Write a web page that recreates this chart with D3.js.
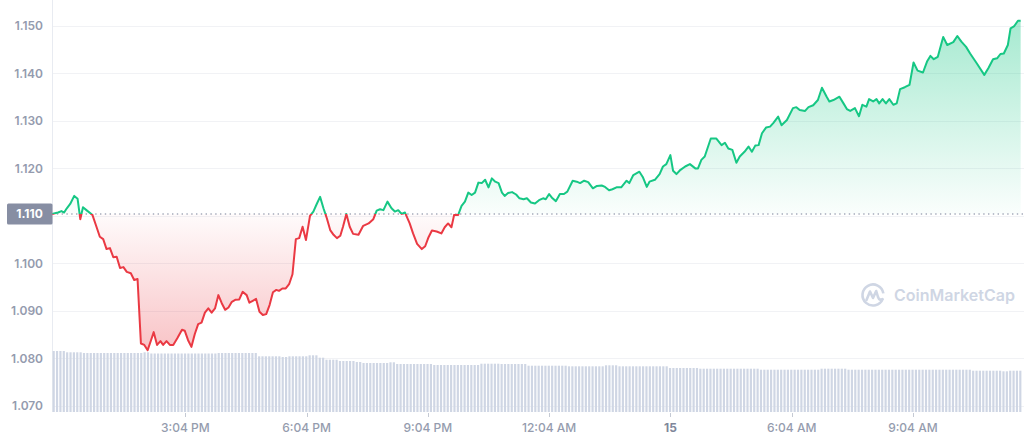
<!DOCTYPE html>
<html><head><meta charset="utf-8">
<script src="https://cdn.jsdelivr.net/npm/d3@7"></script>
<style>html,body{margin:0;padding:0;background:#fff;} svg{display:block;font-family:Inter,"Noto Sans",sans-serif;}</style>
</head><body><svg id="c" width="1024" height="441"></svg>
<script>
// minutes after the window start (11:46 AM on the 14th)
const priceMinutes = [0,9,14,18,22,27,33,38,42,46,52,60,66,71,76,81,86,91,96,101,106,111,117,122,127,132,137,142,147,151,156,161,165,170,175,180,186,193,197,202,207,212,217,222,227,232,237,242,247,252,257,262,267,272,278,283,289,293,298,303,308,313,318,323,328,333,337,342,347,352,357,362,367,372,377,383,388,393,398,403,408,413,418,423,428,432,437,442,447,455,462,470,477,482,487,492,498,504,509,514,519,524,531,536,542,549,554,559,564,571,578,583,588,593,597,603,608,613,618,623,628,633,638,643,648,653,658,663,668,672,677,683,689,694,700,705,711,717,723,729,733,738,743,748,754,760,765,773,779,784,790,796,803,809,816,821,827,832,838,845,853,857,863,872,877,883,887,895,902,907,912,918,922,927,933,940,947,955,959,964,969,978,986,994,999,1004,1010,1016,1021,1028,1034,1039,1044,1049,1054,1060,1066,1071,1078,1083,1091,1100,1105,1110,1118,1123,1130,1137,1143,1150,1154,1160,1169,1175,1180,1185,1192,1198,1203,1209,1213,1219,1224,1228,1233,1238,1243,1249,1254,1259,1266,1273,1279,1285,1293,1299,1304,1309,1315,1323,1329,1338,1344,1350,1357,1363,1373,1384,1390,1397,1403,1408,1413,1419,1423,1428,1434,1438];
const prices = [1.1104,1.1107,1.1110,1.1107,1.1116,1.1125,1.1142,1.1136,1.1093,1.1118,1.1111,1.1102,1.1077,1.1056,1.1051,1.1030,1.1032,1.1013,1.1014,1.0990,1.0992,1.0982,1.0979,1.0965,1.0967,1.0831,1.0828,1.0817,1.0838,1.0855,1.0828,1.0836,1.0828,1.0836,1.0828,1.0828,1.0842,1.0860,1.0858,1.0838,1.0824,1.0851,1.0872,1.0875,1.0896,1.0905,1.0896,1.0905,1.0933,1.0916,1.0902,1.0907,1.0919,1.0923,1.0924,1.0940,1.0933,1.0917,1.0921,1.0925,1.0898,1.0891,1.0893,1.0912,1.0939,1.0944,1.0942,1.0947,1.0947,1.0956,1.0977,1.1051,1.1053,1.1077,1.1049,1.1100,1.1109,1.1125,1.1140,1.1116,1.1095,1.1070,1.1060,1.1053,1.1058,1.1077,1.1104,1.1077,1.1062,1.1060,1.1079,1.1084,1.1093,1.1111,1.1114,1.1112,1.1130,1.1116,1.1109,1.1112,1.1104,1.1107,1.1084,1.1063,1.1041,1.1030,1.1036,1.1055,1.1069,1.1067,1.1063,1.1076,1.1084,1.1076,1.1102,1.1102,1.1121,1.1130,1.1149,1.1144,1.1149,1.1170,1.1169,1.1176,1.1160,1.1179,1.1172,1.1169,1.1149,1.1142,1.1148,1.1150,1.1145,1.1137,1.1135,1.1137,1.1128,1.1126,1.1133,1.1137,1.1135,1.1146,1.1137,1.1131,1.1146,1.1146,1.1151,1.1174,1.1172,1.1169,1.1174,1.1171,1.1158,1.1163,1.1164,1.1161,1.1154,1.1156,1.1160,1.1160,1.1174,1.1169,1.1186,1.1193,1.1182,1.1161,1.1172,1.1176,1.1188,1.1204,1.1209,1.1228,1.1195,1.1188,1.1197,1.1204,1.1209,1.1200,1.1200,1.1218,1.1225,1.1263,1.1263,1.1249,1.1254,1.1242,1.1239,1.1212,1.1225,1.1235,1.1246,1.1235,1.1248,1.1249,1.1274,1.1286,1.1288,1.1296,1.1309,1.1291,1.1302,1.1327,1.1329,1.1323,1.1321,1.1329,1.1333,1.1344,1.1370,1.1351,1.1341,1.1344,1.1351,1.1337,1.1325,1.1321,1.1327,1.1310,1.1334,1.1330,1.1346,1.1341,1.1346,1.1337,1.1346,1.1337,1.1346,1.1334,1.1337,1.1367,1.1371,1.1376,1.1423,1.1406,1.1402,1.1425,1.1437,1.1430,1.1435,1.1477,1.1460,1.1466,1.1479,1.1467,1.1456,1.1442,1.1421,1.1397,1.1411,1.1430,1.1432,1.1441,1.1442,1.1460,1.1495,1.1499,1.1511,1.1511];
// 24h volume per 5-minute bar (billions)
const volumes = [
6.10,6.10,6.10,6.10,
5.97,5.97,5.97,5.97,5.97,
5.90,5.90,5.90,5.90,5.90,5.90,5.90,5.90,5.90,5.90,5.90,5.90,5.90,5.90,5.90,5.90,5.90,5.90,
5.97,5.97,
5.85,5.85,5.85,5.85,5.85,5.85,5.85,5.85,5.85,5.85,5.85,5.85,5.85,5.85,5.85,5.85,5.85,5.85,5.85,5.85,
5.90,5.90,5.90,5.90,5.90,5.90,5.90,5.90,5.90,5.90,5.90,5.90,
5.57,5.57,5.57,5.57,5.57,5.57,5.57,
5.50,5.50,
5.57,5.57,5.57,5.57,5.57,5.57,
5.67,5.67,5.67,
5.43,5.43,
5.23,5.23,5.23,5.23,
5.10,5.10,5.10,5.10,5.10,
5.00,5.00,
4.90,4.90,4.90,4.90,4.90,4.90,4.90,4.90,
4.97,4.97,
4.80,4.80,4.80,4.80,4.80,4.80,4.80,4.80,4.80,4.80,4.80,
4.70,4.70,4.70,4.70,4.70,4.70,4.70,4.70,4.70,4.70,4.70,4.70,4.70,4.70,
4.83,4.83,4.83,4.83,4.83,4.83,
4.80,4.80,4.80,4.80,4.80,4.80,4.80,4.80,
4.63,4.63,4.63,4.63,4.63,4.63,4.63,4.63,4.63,4.63,4.63,4.63,
4.57,4.57,4.57,4.57,4.57,4.57,4.57,4.57,4.57,4.57,4.57,
4.67,4.67,4.67,4.67,
4.57,4.57,4.57,4.57,4.57,4.57,4.57,4.57,4.57,4.57,4.57,4.57,4.57,4.57,4.57,
4.40,4.40,4.40,4.40,4.40,4.40,4.40,4.40,4.40,
4.33,4.33,4.33,4.33,4.33,4.33,4.33,4.33,4.33,4.33,4.33,4.33,4.33,4.33,4.33,4.33,4.33,4.33,
4.23,4.23,4.23,4.23,4.23,4.23,4.23,4.23,4.23,4.23,4.23,4.23,4.23,4.23,4.23,4.23,4.23,4.23,
4.33,4.33,4.33,4.33,4.33,4.33,4.33,4.33,
4.23,4.23,4.23,4.23,4.23,4.23,4.23,4.23,4.23,4.23,4.23,4.23,4.23,4.23,4.23,4.23,4.23,4.23,4.23,4.23,4.23,4.23,4.23,4.23,4.23,4.23,4.23,4.23,4.23,4.23,4.23,4.23,4.23,4.23,4.23,4.23,4.23,
4.13,4.13,4.13,4.13,4.13,4.13,4.13,4.13,4.13,
4.07,4.07,
4.13,4.13,4.13,4.13
];
const yTickValues = [1.07,1.08,1.09,1.10,1.11,1.12,1.13,1.14,1.15];
const xTickMinutes = [198,378,558,738,918,1098,1278];
const xTickLabels = ["3:04 PM","6:04 PM","9:04 PM","12:04 AM","15","6:04 AM","9:04 AM"];
const dayTickLabel = "15";
const watermarkText = "CoinMarketCap";

const startTime = new Date(2023,6,14,11,46);
const toDate = m => new Date(startTime.getTime() + m*60000);
const endTime = toDate(1440);

const svg = d3.select("#c");
const W = 1024, H = 441;
const left = 52, right = 1022, volBottom = 412;

const x = d3.scaleTime().domain([startTime, endTime]).range([left, right]);
const y = d3.scaleLinear().domain([1.07, 1.15]).range([405.7, 26]);
const yVol = d3.scaleLinear().domain([0, 7]).range([volBottom, volBottom - 70]);

const data = priceMinutes.map((m,i)=>({t: toDate(m), p: prices[i]}));
const base = prices[0];
const yBase = y(base);

const defs = svg.append("defs");
const gG = defs.append("linearGradient").attr("id","gGreen").attr("gradientUnits","userSpaceOnUse")
  .attr("x1",0).attr("x2",0).attr("y1",y(d3.max(prices))).attr("y2",yBase);
gG.append("stop").attr("offset",0).attr("stop-color","#16c784").attr("stop-opacity",0.38);
gG.append("stop").attr("offset",1).attr("stop-color","#16c784").attr("stop-opacity",0.02);
const gR = defs.append("linearGradient").attr("id","gRed").attr("gradientUnits","userSpaceOnUse")
  .attr("x1",0).attr("x2",0).attr("y1",yBase).attr("y2",y(d3.min(prices)));
gR.append("stop").attr("offset",0).attr("stop-color","#ea3943").attr("stop-opacity",0.02);
gR.append("stop").attr("offset",1).attr("stop-color","#ea3943").attr("stop-opacity",0.30);
defs.append("clipPath").attr("id","cAbove").append("rect").attr("x",0).attr("y",0).attr("width",W).attr("height",yBase);
defs.append("clipPath").attr("id","cBelow").append("rect").attr("x",0).attr("y",yBase).attr("width",W).attr("height",H-yBase);

// grid
svg.append("g").selectAll("line").data(yTickValues).join("line")
  .attr("x1",left).attr("x2",W).attr("y1",d=>Math.round(y(d))+0.5).attr("y2",d=>Math.round(y(d))+0.5)
  .attr("stroke","#f1f2f5").attr("stroke-width",1);
svg.append("line").attr("x1",left+0.5).attr("x2",left+0.5).attr("y1",0).attr("y2",volBottom)
  .attr("stroke","#e8ebf1");

// volume bars
const barStep = (right-left)/volumes.length;
svg.append("g").selectAll("rect").data(volumes).join("rect")
  .attr("x",(d,i)=>x(toDate(i*5))+0.6)
  .attr("width",barStep-1.2)
  .attr("y",d=>yVol(d)).attr("height",d=>volBottom-yVol(d))
  .attr("fill","#cfd6e4");

// watermark
const wm = svg.append("g").attr("transform","translate(873,295)").attr("fill","none").attr("stroke","#cfd6e4");
wm.append("path").attr("stroke-width",2.6).attr("stroke-linecap","round")
  .attr("d", d3.arc()({innerRadius:10.5, outerRadius:10.5, startAngle: Math.PI*0.62, endAngle: Math.PI*2.45}));
wm.append("path").attr("stroke-width",2.6).attr("stroke-linejoin","round").attr("stroke-linecap","round")
  .attr("d","M-6.5,5 L-3,-3.5 L0,3 L3.2,-4 L5,2 Q6.5,6 9.5,4");
svg.append("text").attr("x",894).attr("y",295).attr("dy","0.36em").attr("font-size",16).attr("font-weight",600)
  .attr("fill","#cfd6e4").text(watermarkText);

// areas & lines
const area = d3.area().x(d=>x(d.t)).y0(yBase).y1(d=>y(d.p));
const line = d3.line().x(d=>x(d.t)).y(d=>y(d.p));
svg.append("path").datum(data).attr("d",area).attr("fill","url(#gGreen)").attr("clip-path","url(#cAbove)");
svg.append("path").datum(data).attr("d",area).attr("fill","url(#gRed)").attr("clip-path","url(#cBelow)");
svg.append("line").attr("x1",left).attr("x2",W).attr("y1",yBase).attr("y2",yBase)
  .attr("stroke","#a5abba").attr("stroke-width",1.4).attr("stroke-dasharray","1.4,3.4");
svg.append("path").datum(data).attr("d",line).attr("fill","none").attr("stroke","#16c784").attr("stroke-width",2)
  .attr("stroke-linejoin","round").attr("clip-path","url(#cAbove)");
svg.append("path").datum(data).attr("d",line).attr("fill","none").attr("stroke","#ea3943").attr("stroke-width",2)
  .attr("stroke-linejoin","round").attr("clip-path","url(#cBelow)");

// y labels
svg.append("g").selectAll("text").data(yTickValues.filter(v=>Math.abs(y(v)-yBase)>8)).join("text")
  .attr("x",43).attr("y",d=>y(d)).attr("dy","0.36em").attr("text-anchor","end")
  .attr("font-size",12).attr("font-weight",600).attr("fill","#949bae").text(d=>d3.format(".3f")(d));

// baseline label
svg.append("rect").attr("x",7).attr("y",yBase-10.5).attr("width",45.5).attr("height",21).attr("rx",1.5).attr("fill","#878ea3");
svg.append("text").attr("x",29.5).attr("y",yBase).attr("dy","0.36em").attr("text-anchor","middle")
  .attr("font-size",12).attr("font-weight",700).attr("fill","#ffffff").text(d3.format(".3f")(base));

// x axis
const xt = svg.append("g");
xt.selectAll("line").data(xTickMinutes).join("line")
  .attr("x1",d=>Math.round(x(toDate(d)))+0.5).attr("x2",d=>Math.round(x(toDate(d)))+0.5)
  .attr("y1",413).attr("y2",417).attr("stroke","#c5cad4");
xt.selectAll("text").data(xTickMinutes).join("text")
  .attr("x",d=>x(toDate(d))).attr("y",432).attr("text-anchor","middle").attr("font-size",12)
  .attr("font-weight",(d,i)=>xTickLabels[i]===dayTickLabel?700:500)
  .attr("fill",(d,i)=>xTickLabels[i]===dayTickLabel?"#7f879b":"#959cae")
  .text((d,i)=>xTickLabels[i]);
</script></body></html>
